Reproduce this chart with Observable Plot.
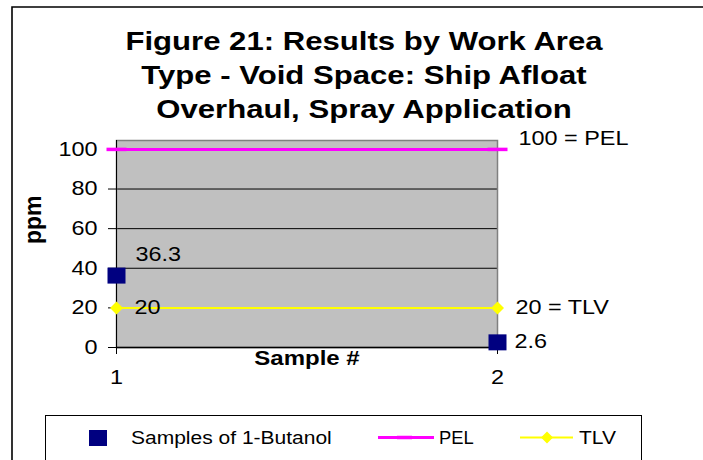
<!DOCTYPE html>
<html><head><meta charset="utf-8">
<script src="https://cdn.jsdelivr.net/npm/d3@7"></script>
<script src="https://cdn.jsdelivr.net/npm/@observablehq/plot@0.6"></script>
<style>
body{margin:0;background:#fff;}
#wrap{position:relative;width:703px;height:460px;overflow:hidden;font-family:"Liberation Sans",Arial,sans-serif;background:#fff;}
#wrap svg{position:absolute;left:0;top:0;}
</style></head><body><div id="wrap"></div>
<script>
const titleLines = ["Figure 21: Results by Work Area", "Type - Void Space: Ship Afloat", "Overhaul, Spray Application"];
const sampleNumbers = [1, 2];
const butanolPpm = [36.3, 2.6];
const pelValue = 100;
const tlvValue = 20;
const yTicks = [0, 20, 40, 60, 80, 100];
const xTicks = [1, 2];
const yLabel = "ppm";
const xLabel = "Sample #";
const seriesNames = ["Samples of 1-Butanol", "PEL", "TLV"];

const samples = sampleNumbers.map((s, i) => ({x: s, y: butanolPpm[i]}));
const pel = sampleNumbers.map(s => ({x: s, y: pelValue}));
const tlv = sampleNumbers.map(s => ({x: s, y: tlvValue}));

const dash = {draw(ctx, size) { const r = Math.sqrt(size / Math.PI); ctx.moveTo(-r, 0); ctx.lineTo(r, 0); }};
const diamond = {draw(ctx, size) { const r = Math.sqrt(size / Math.PI); ctx.moveTo(0, -r); ctx.lineTo(r, 0); ctx.lineTo(0, r); ctx.lineTo(-r, 0); ctx.closePath(); }};
const square = {draw(ctx, size) { const r = Math.sqrt(size / Math.PI); const h = r * 8 / 9; ctx.rect(-r, -h, 2 * r, 2 * h); }};

const font = '"Liberation Sans", Arial, sans-serif';
const chart = Plot.plot({
  width: 703, height: 460,
  marginLeft: 116, marginRight: 206, marginTop: 140, marginBottom: 113,
  style: {fontFamily: font, fontSize: "19.5px", color: "#000", background: "transparent"},
  x: {domain: [1, 2], axis: null},
  y: {domain: [0, 104.5], axis: null},
  marks: [
    Plot.frame({fill: "#C0C0C0", stroke: null}),
    Plot.gridY(yTicks.filter(t => t > 0), {stroke: "#000", strokeOpacity: 1}),
    Plot.frame({stroke: "#808080", strokeWidth: 1.5}),
    Plot.ruleY([0], {stroke: "#000", strokeWidth: 1.5}),
    Plot.ruleX([1], {stroke: "#000", strokeWidth: 1}),
    Plot.axisY(yTicks, {tickSize: 8, tickPadding: 11, fontSize: 19.5, label: null, stroke: "#000", tickFormat: d3.format("d")}),
    Plot.axisX(xTicks, {tickSize: 7, tickPadding: 16, fontSize: 19.5, label: null, stroke: "#000", tickFormat: d3.format("d")}),
    Plot.text([xLabel], {frameAnchor: "bottom", dy: 17.5, fontWeight: "bold", fontSize: 20}),
    Plot.text([yLabel], {frameAnchor: "left", dx: -83, rotate: -90, fontWeight: "bold", fontSize: 23}),
    Plot.line(pel, {x: "x", y: "y", stroke: "#FF00FF", strokeWidth: 3}),
    Plot.dot(pel, {x: "x", y: "y", symbol: dash, r: 10, stroke: "#FF00FF", strokeWidth: 3.5}),
    Plot.line(tlv, {x: "x", y: "y", stroke: "#FFFF00", strokeWidth: 2}),
    Plot.dot(tlv, {x: "x", y: "y", symbol: diamond, r: 6.5, fill: "#FFFF00", stroke: null}),
    Plot.dot(samples, {x: "x", y: "y", symbol: square, r: 9, fill: "#000080", stroke: null}),
    Plot.text(samples.slice(0, 1), {x: "x", y: "y", text: d => String(d.y), textAnchor: "start", dx: 19, dy: -21}),
    Plot.text(samples.slice(1), {x: "x", y: "y", text: d => String(d.y), textAnchor: "start", dx: 17, dy: -1}),
    Plot.text(tlv.slice(0, 1), {x: "x", y: "y", text: d => String(d.y), textAnchor: "start", dx: 18}),
    Plot.text(tlv.slice(1), {x: "x", y: "y", text: d => `${d.y} = ${seriesNames[2]}`, textAnchor: "start", dx: 18}),
    Plot.text(pel.slice(1), {x: "x", y: "y", text: d => `${d.y} = ${seriesNames[1]}`, textAnchor: "start", dx: 21, dy: -11})
  ]
});
const wrap = document.getElementById("wrap");
wrap.appendChild(chart);

function stretch(el, k) {
  const L = el.getComputedTextLength();
  if (L > 0) { el.setAttribute("textLength", (L * k).toFixed(2)); el.setAttribute("lengthAdjust", "spacingAndGlyphs"); }
}
chart.querySelectorAll("text").forEach(t => { if (t.textContent !== yLabel) stretch(t, 1.2); });

// overlay: outer frame, title, legend
const ov = d3.select(wrap).append("svg").attr("width", 703).attr("height", 460)
  .style("font-family", font);
ov.append("path").attr("d", "M12,470V7H710").attr("fill", "none").attr("stroke", "#000").attr("stroke-width", 1.6);

const titleCx = 364;
titleLines.forEach((line, i) => {
  const t = ov.append("text").attr("y", 50 + i * 34).attr("font-weight", "bold").attr("font-size", 25.5).attr("fill", "#000").text(line);
  const L = t.node().getComputedTextLength();
  const T = L * 1.22;
  t.attr("x", titleCx - T / 2).attr("textLength", T).attr("lengthAdjust", "spacingAndGlyphs");
});

const lg = ov.append("g");
lg.append("rect").attr("x", 45.5).attr("y", 415.5).attr("width", 596).attr("height", 80).attr("fill", "none").attr("stroke", "#000").attr("stroke-width", 1);
const ly = 437.5;
lg.append("rect").attr("x", 89).attr("y", 430).attr("width", 18).attr("height", 16).attr("fill", "#000080");
lg.append("line").attr("x1", 378).attr("x2", 434).attr("y1", ly).attr("y2", ly).attr("stroke", "#FF00FF").attr("stroke-width", 3);
lg.append("line").attr("x1", 397).attr("x2", 412).attr("y1", ly).attr("y2", ly).attr("stroke", "#FF00FF").attr("stroke-width", 3.5);
lg.append("line").attr("x1", 520).attr("x2", 573).attr("y1", ly).attr("y2", ly).attr("stroke", "#FFFF00").attr("stroke-width", 2);
lg.append("path").attr("d", `M547,${ly - 6}L553,${ly}L547,${ly + 6}L541,${ly}Z`).attr("fill", "#FFFF00");
const legendX = [131, 439, 579];
seriesNames.forEach((name, i) => {
  const t = lg.append("text").attr("x", legendX[i]).attr("y", 443.5).attr("font-size", 17.5).attr("fill", "#000").text(name);
  stretch(t.node(), i === 1 ? 1.05 : 1.2);
});
</script>
</body></html>
